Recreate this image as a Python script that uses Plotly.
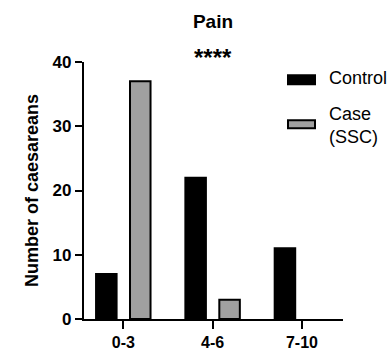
import plotly.graph_objects as go

categories = ["0-3", "4-6", "7-10"]
control = [7, 22, 11]
case_ssc = [37, 3, 0]
y_ticks = [0, 10, 20, 30, 40]

FONT = "Liberation Sans, Arial, sans-serif"

fig = go.Figure()
fig.add_trace(go.Bar(x=categories, y=control, name="Control",
                     marker=dict(color="black", line=dict(color="black", width=2))))
fig.add_trace(go.Bar(x=categories, y=case_ssc, name="Case<br>(SSC)",
                     marker=dict(color="#a0a0a0",
                                 line=dict(color="black", width=[2 if v else 0 for v in case_ssc]))))

fig.update_layout(
    width=392, height=352,
    margin=dict(l=84, r=49, t=62, b=33),
    plot_bgcolor="white", paper_bgcolor="white",
    barmode="group", bargap=0.24, bargroupgap=0.395,
    showlegend=False,
    font=dict(family=FONT, color="black"),
    title=dict(text="Pain", x=(213) / 392, xanchor="center", y=1 - 21 / 352, yanchor="middle",
               font=dict(family=FONT, size=19, weight="bold", color="black")),
)
fig.update_xaxes(
    range=[-0.44, 2.46], showline=True, linecolor="black", linewidth=2.3,
    ticks="outside", ticklen=8, tickwidth=2.3, tickcolor="black",
    tickfont=dict(family=FONT, size=16, weight="bold", color="black"),
    showgrid=False, zeroline=False, fixedrange=True, automargin=False,
)
fig.update_yaxes(
    range=[0, 40], tickvals=y_ticks, showline=True, linecolor="black", linewidth=2.3,
    ticks="outside", ticklen=7, tickwidth=2.3, tickcolor="black",
    tickfont=dict(family=FONT, size=17, weight="bold", color="black"),
    showgrid=False, zeroline=False, automargin=False,
    title=dict(text="Number of caesareans", standoff=9,
               font=dict(family=FONT, size=18, weight="bold", color="black")),
)

# significance marker
fig.add_annotation(x=1, y=(319 - 57) / 257.3, xref="x", yref="paper", text="****", showarrow=False,
                   font=dict(family=FONT, size=24, weight="bold", color="black"),
                   xanchor="center", yanchor="middle")

# manual legend
def px_x(px):
    return (px - 84) / 259

def px_y(py):
    return (319 - py) / 257.3

legend_items = [("Control", "black", 75, 84, 78), ("Case<br>(SSC)", "#a0a0a0", 120, 128, 125)]
for label, color, y0, y1, ty in legend_items:
    fig.add_shape(type="rect", xref="paper", yref="paper",
                  x0=px_x(288), x1=px_x(315), y0=px_y(y1), y1=px_y(y0),
                  fillcolor=color, line=dict(color="black", width=2))
    fig.add_annotation(xref="paper", yref="paper", x=px_x(327), y=px_y(ty), text=label,
                       showarrow=False, xanchor="left", yanchor="middle", align="left",
                       font=dict(family=FONT, size=18, color="black"))

fig.write_html("out.html", config={"displayModeBar": False},
               post_script="document.body.style.margin='0';document.body.style.overflow='hidden';")
